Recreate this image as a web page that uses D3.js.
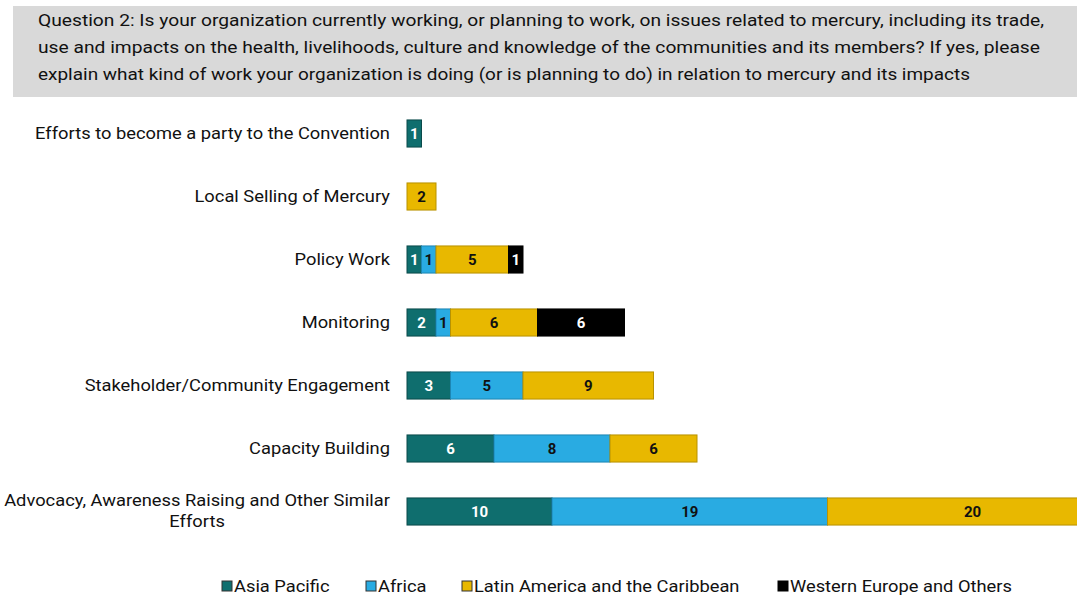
<!DOCTYPE html>
<html lang="en">
<head>
<meta charset="UTF-8">
<title>Question 2</title>
<style>
  body { margin: 0; padding: 0; background: #ffffff; overflow: hidden; }
  svg text { font-family: Roboto, "Liberation Sans", sans-serif; }
</style>
</head>
<body>
<svg id="chart" width="1077" height="596"></svg>
<script src="https://d3js.org/d3.v7.min.js"></script>
<script>
// data
const categories = [
  "Efforts to become a party to the Convention",
  "Local Selling of Mercury",
  "Policy Work",
  "Monitoring",
  "Stakeholder/Community Engagement",
  "Capacity Building",
  "Advocacy, Awareness Raising and Other Similar Efforts"
];
const regions = ["Asia Pacific", "Africa", "Latin America and the Caribbean", "Western Europe and Others"];
const asiaPacific = [1, 0, 1, 2, 3, 6, 10];
const africa      = [0, 0, 1, 1, 5, 8, 19];
const latinAm     = [0, 2, 5, 6, 9, 6, 20];
const westernEu   = [0, 0, 1, 6, 0, 0, 0];
const titleLines = [
  "Question 2: Is your organization currently working, or planning to work, on issues related to mercury, including its trade,",
  "use and impacts on the health, livelihoods, culture and knowledge of the communities and its members? If yes, please",
  "explain what kind of work your organization is doing (or is planning to do) in relation to mercury and its impacts"
];

const COLORS = ["#0f6e6e", "#29abe2", "#e8b800", "#000000"];
const STROKES = ["#0a4a4a", "#1d86b3", "#b89200", "#000000"];
const LABEL_COLORS = ["#ffffff", "#111111", "#111111", "#ffffff"];
const STRETCH = 1.145; // text in the picture is a bit wide

const svg = d3.select("#chart");

function stretchAt(x0) {
  return `translate(${x0},0) scale(${STRETCH},1) translate(${-x0},0)`;
}

// title box
svg.append("rect")
  .attr("x", 13).attr("y", 6)
  .attr("width", 1064).attr("height", 91)
  .attr("fill", "#d9d9d9");

const titleWidths = [1006, 1002, 932];
svg.append("g").selectAll("text")
  .data(titleLines)
  .join("text")
  .attr("x", 38)
  .attr("y", (d, i) => 26 + i * 27)
  .attr("font-size", "16.5px")
  .attr("fill", "#111")
  .attr("textLength", (d, i) => titleWidths[i])
  .attr("lengthAdjust", "spacingAndGlyphs")
  .text(d => d);

// scales
const y = d3.scaleBand()
  .domain(categories)
  .range([102, 543])
  .paddingInner(0.57)
  .paddingOuter(0.285);

const x = d3.scaleLinear()
  .domain([0, 50])
  .range([407, 407 + 50 * 14.5]);

const rows = categories.map((c, i) => ({
  category: c,
  values: [asiaPacific[i], africa[i], latinAm[i], westernEu[i]]
}));
const stack = d3.stack().keys([0, 1, 2, 3]).value((d, k) => d.values[k]);
const series = stack(rows);

const barG = svg.append("g");
series.forEach((s, k) => {
  const g = barG.append("g");
  const segs = s.filter(d => d[1] - d[0] > 0);
  g.selectAll("rect")
    .data(segs)
    .join("rect")
    .attr("x", d => x(d[0]))
    .attr("y", d => y(d.data.category))
    .attr("width", d => x(d[1]) - x(d[0]))
    .attr("height", y.bandwidth())
    .attr("fill", COLORS[k])
    .attr("stroke", STROKES[k])
    .attr("stroke-width", 1);
  g.selectAll("text")
    .data(segs)
    .join("text")
    .attr("x", d => (x(d[0]) + x(d[1])) / 2)
    .attr("y", d => y(d.data.category) + y.bandwidth() / 2)
    .attr("dy", "0.36em")
    .attr("text-anchor", "middle")
    .attr("font-size", "15px")
    .attr("font-weight", "bold")
    .attr("fill", LABEL_COLORS[k])
    .text(d => d[1] - d[0]);
});

// category labels (wrap the long one)
const labelG = svg.append("g").attr("transform", stretchAt(390));
categories.forEach(c => {
  const cy = y(c) + y.bandwidth() / 2;
  let lines = [c];
  if (c.length > 46) {
    lines = ["Advocacy, Awareness Raising and Other Similar", "Efforts"];
  }
  if (lines.length === 1) {
    labelG.append("text")
      .attr("x", 390).attr("y", cy)
      .attr("dy", "0.36em")
      .attr("text-anchor", "end")
      .attr("font-size", "16px")
      .attr("fill", "#111")
      .text(c);
  } else {
    const t = labelG.append("text")
      .attr("font-size", "16px")
      .attr("fill", "#111")
      .attr("text-anchor", "middle");
    const tmp = labelG.append("text").attr("font-size", "16px").text(lines[0]);
    const w = tmp.node().getComputedTextLength();
    tmp.remove();
    const mid = 390 - w / 2;
    lines.forEach((l, i) => {
      t.append("tspan")
        .attr("x", mid)
        .attr("y", cy - 11 + i * 21)
        .attr("dy", "0.36em")
        .text(l);
    });
  }
});

// legend
const legendX = [222, 366, 462, 778];
const legend = svg.append("g");
regions.forEach((r, k) => {
  legend.append("rect")
    .attr("x", legendX[k]).attr("y", 581)
    .attr("width", 10).attr("height", 10)
    .attr("fill", COLORS[k])
    .attr("stroke", k === 3 ? "#000" : "#333")
    .attr("stroke-width", 1);
  legend.append("text")
    .attr("x", legendX[k] + 12).attr("y", 586)
    .attr("dy", "0.36em")
    .attr("font-size", "16px")
    .attr("fill", "#111")
    .attr("transform", stretchAt(legendX[k] + 12))
    .text(r);
});
</script>
</body>
</html>
